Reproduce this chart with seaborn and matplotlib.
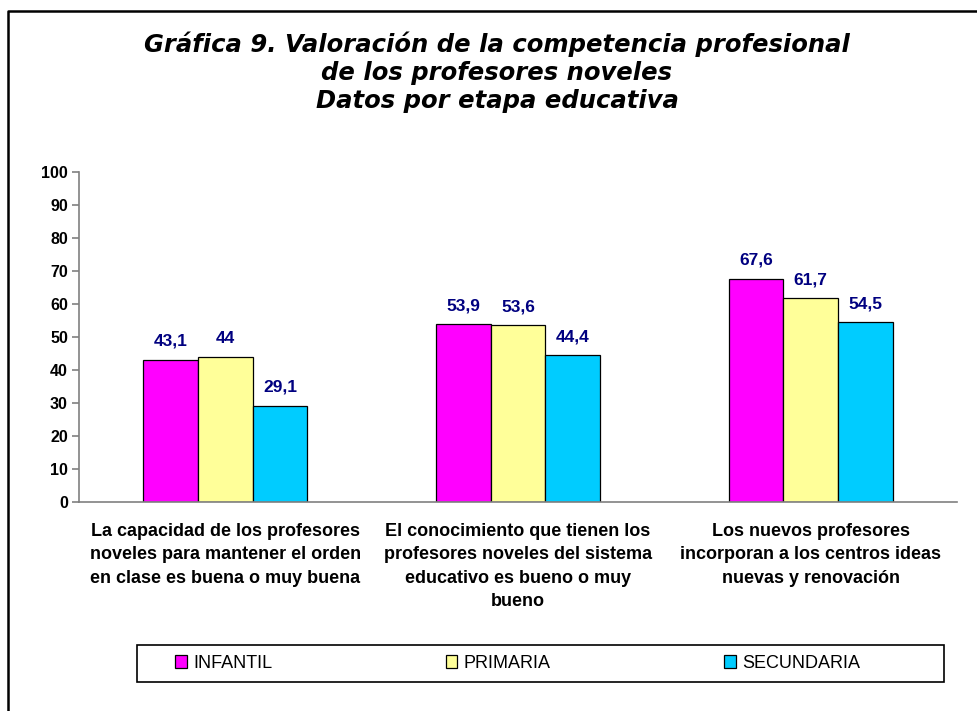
import pandas as pd
import matplotlib.pyplot as plt
import matplotlib.lines as mlines
import matplotlib.patches as mpatches
import seaborn as sns

# ---------------------------
# DATA
# ---------------------------
items = [
    "La capacidad de los profesores\nnoveles para mantener el orden\nen clase es buena o muy buena",
    "El conocimiento que tienen los\nprofesores noveles del sistema\neducativo es bueno o muy\nbueno",
    "Los nuevos profesores\nincorporan a los centros ideas\nnuevas y renovación",
]
etapas = ["INFANTIL", "PRIMARIA", "SECUNDARIA"]
infantil = [43.1, 53.9, 67.6]
primaria = [44, 53.6, 61.7]
secundaria = [29.1, 44.4, 54.5]
yticks = list(range(0, 101, 10))

colores = {"INFANTIL": "#FF00FF", "PRIMARIA": "#FFFF99", "SECUNDARIA": "#00CCFF"}

titulo = ("Gráfica 9. Valoración de la competencia profesional\n"
          "de los profesores noveles\n"
          "Datos por etapa educativa")


def fmt_es(v):
    return f"{v:g}".replace(".", ",")


rows = []
for etapa, vals in zip(etapas, [infantil, primaria, secundaria]):
    for i, v in enumerate(vals):
        rows.append({"item": i, "etapa": etapa, "valor": v})
df = pd.DataFrame(rows)

# ---------------------------
# PLOT
# ---------------------------
sns.set_style("white")
plt.rcParams["font.family"] = ["Liberation Sans", "DejaVu Sans"]
plt.rcParams["text.color"] = "black"
plt.rcParams["xtick.labelcolor"] = "black"
plt.rcParams["ytick.labelcolor"] = "black"

fig = plt.figure(figsize=(9.78, 7.11), dpi=100)
ax = fig.add_axes([79 / 978, 1 - 502 / 711, (957 - 79) / 978, (502 - 172) / 711])

sns.barplot(data=df, x="item", y="valor", hue="etapa", hue_order=etapas,
            palette=colores, width=0.56, edgecolor="black", linewidth=0.9,
            saturation=1, ax=ax)

for cont in ax.containers:
    ax.bar_label(cont, labels=[fmt_es(v) for v in cont.datavalues],
                 padding=8, color="#000080", fontsize=12.5, fontweight="bold")

ax.set_xlim(-0.5, 2.5)
ax.set_ylim(0, 100)
ax.set_yticks(yticks)
ax.set_yticklabels([str(t) for t in yticks], fontsize=11.5, fontweight="bold")
ax.set_xticks([0, 1, 2])
ax.set_xticklabels(items, fontsize=13, fontweight="bold", linespacing=1.5)
ax.set_xticks([-0.5, 0.5, 1.5, 2.5], minor=True)
ax.tick_params(axis="x", which="major", length=0, pad=15)
ax.tick_params(axis="x", which="minor", length=5, color="#808080", width=1.2)
ax.tick_params(axis="y", length=5, color="#808080", width=1.2, pad=3, left=True)
ax.set_xlabel("")
ax.set_ylabel("")

for side in ["top", "right"]:
    ax.spines[side].set_visible(False)
for side in ["left", "bottom"]:
    ax.spines[side].set_color("#808080")
    ax.spines[side].set_linewidth(1.2)

# leyenda: caja propia + entradas sin marco
handles, labels = ax.get_legend_handles_labels()
ax.get_legend().remove()
fig.add_artist(mpatches.Rectangle((137 / 978, 1 - 682 / 711), (944 - 137) / 978, 37 / 711,
                                  transform=fig.transFigure, facecolor="white",
                                  edgecolor="black", lw=1.2, zorder=1))
leg = fig.legend(handles, labels, ncol=3, loc="center left",
                 bbox_to_anchor=(175 / 978, 1 - 663.5 / 711),
                 fontsize=13, frameon=False, borderpad=0, borderaxespad=0,
                 handlelength=0.65, handleheight=0.75, handletextpad=0.35,
                 columnspacing=9.6)
leg.set_zorder(2)

fig.text(497 / 978, 1 - 72 / 711, titulo, ha="center", va="center",
         fontsize=17.5, fontweight="bold", fontstyle="italic",
         family=["DejaVu Sans"], linespacing=1.2)

# marco exterior (solo bordes izquierdo y superior visibles)
fig.add_artist(mlines.Line2D([8 / 978, 8 / 978, 1], [0, 1 - 11 / 711, 1 - 11 / 711],
                             transform=fig.transFigure, color="black", lw=1.8))

fig.savefig("out.png", dpi=100)
